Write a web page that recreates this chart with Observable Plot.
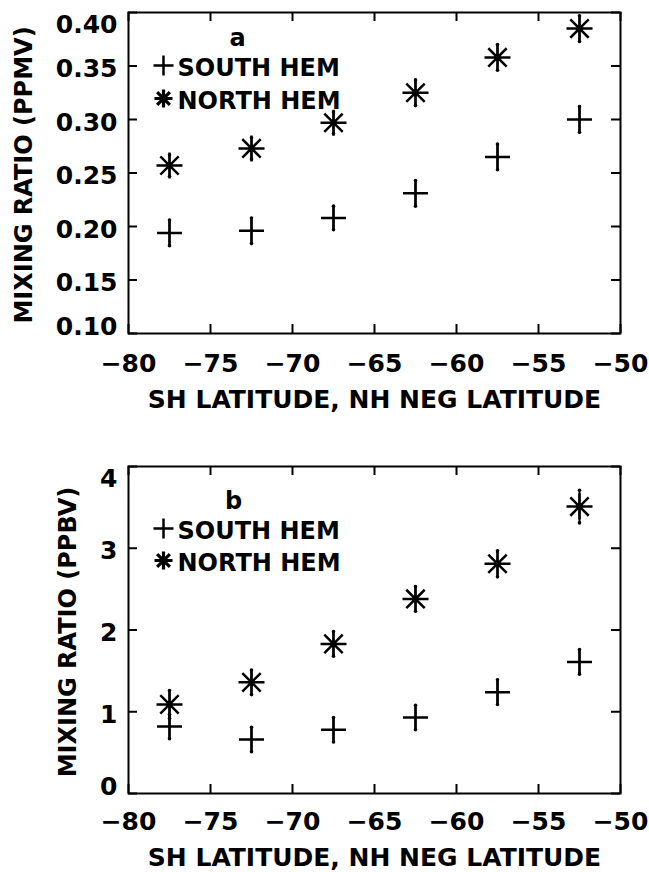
<!DOCTYPE html>
<html><head><meta charset="utf-8">
<script src="https://cdn.jsdelivr.net/npm/d3@7"></script>
<script src="https://cdn.jsdelivr.net/npm/@observablehq/plot@0.6"></script>
<style>body{margin:0;background:#fff} svg{display:block}</style>
</head><body><div id="c"></div><script>
// Latitude bins (SH latitude, NH negative latitude)
const lat = [-77.5, -72.5, -67.5, -62.5, -57.5, -52.5];
// Panel a (PPMV)
const shA = [0.194, 0.196, 0.208, 0.231, 0.265, 0.300];
const nhA = [0.257, 0.273, 0.297, 0.325, 0.358, 0.385];
const shAErr = [0.012, 0.012, 0.011, 0.012, 0.012, 0.012];
const nhAErr = [0.010, 0.010, 0.010, 0.012, 0.012, 0.012];
// Panel b (PPBV)
const shB = [0.82, 0.66, 0.78, 0.93, 1.24, 1.61];
const nhB = [1.09, 1.36, 1.83, 2.38, 2.81, 3.51];
const shBErr = [0.15, 0.15, 0.15, 0.15, 0.15, 0.15];
const nhBErr = [0.17, 0.15, 0.15, 0.15, 0.16, 0.20];
// Ticks
const xTicks = [-80, -75, -70, -65, -60, -55, -50];
const yTicksA = [0.10, 0.15, 0.20, 0.25, 0.30, 0.35, 0.40];
const yTicksB = [0, 1, 2, 3, 4];
const xLabel = "SH LATITUDE, NH NEG LATITUDE";
const legendNames = ["SOUTH HEM", "NORTH HEM"];

const plusSym = {draw(ctx, size) {const r = Math.sqrt(size / Math.PI);
  ctx.moveTo(-r, 0); ctx.lineTo(r, 0); ctx.moveTo(0, -r); ctx.lineTo(0, r);}};
const starSym = {draw(ctx, size) {const r = Math.sqrt(size / Math.PI); const d = r * Math.SQRT1_2;
  ctx.moveTo(-r, 0); ctx.lineTo(r, 0); ctx.moveTo(0, -r); ctx.lineTo(0, r);
  ctx.moveTo(-d, -d); ctx.lineTo(d, d); ctx.moveTo(-d, d); ctx.lineTo(d, -d);}};

const W = 649, ML = 128, MR = 29;
const plotW = W - ML - MR;

function panel(o) {
  const rows = lat.map((x, i) => ({x, sh: o.sh[i], nh: o.nh[i], se: o.shErr[i], ne: o.nhErr[i]}));
  const plotH = o.height - o.marginTop - o.marginBottom;
  const yt = o.yTicks;
  const mid = yt.slice(1, -1), lo = [yt[0]], hi = [yt[yt.length - 1]];
  const TK = 9;
  const fmt = o.yFmt;
  const F = 25;
  return Plot.plot({
    width: W, height: o.height, marginLeft: ML, marginRight: MR,
    marginTop: o.marginTop, marginBottom: o.marginBottom,
    style: {fontFamily: "'DejaVu Sans', sans-serif", fontWeight: "bold", fontSize: "24px", color: "black", background: "white", overflow: "visible"},
    x: {domain: [-80, -50], axis: null},
    y: {domain: o.yDomain, axis: null},
    marks: [
      // inward ticks
      Plot.ruleX(xTicks, {x: d => d, insetTop: plotH - TK, strokeWidth: 2}),
      Plot.ruleX(xTicks, {x: d => d, insetBottom: plotH - TK, strokeWidth: 2}),
      Plot.ruleY(yt, {y: d => d, insetRight: plotW - TK, strokeWidth: 2}),
      Plot.ruleY(yt, {y: d => d, insetLeft: plotW - TK, strokeWidth: 2}),
      Plot.frame({strokeWidth: 2}),
      // x tick labels
      Plot.text(xTicks, {x: d => d, frameAnchor: "bottom", lineAnchor: "top", dy: o.xPad, fontSize: F, text: d => d3.format("d")(d)}),
      // y tick labels
      Plot.text(mid, {y: d => d, frameAnchor: "left", textAnchor: "end", dx: -11, dy: 3, fontSize: F, text: fmt}),
      Plot.text(hi, {y: d => d, frameAnchor: "left", textAnchor: "end", dx: -11, lineAnchor: "top", dy: 3, fontSize: F, text: fmt}),
      Plot.text(lo, {y: d => d, frameAnchor: "left", textAnchor: "end", dx: -11, lineAnchor: "bottom", dy: 1, fontSize: F, text: fmt}),
      // axis labels
      Plot.text([xLabel], {frameAnchor: "bottom", lineAnchor: "top", dy: o.labPad, fontSize: F, text: d => d}),
      Plot.text([o.yLabel], {frameAnchor: "left", textAnchor: "middle", rotate: -90, dx: o.yLabX - ML, dy: 2, fontSize: 24, text: d => d}),
      // legend
      Plot.text([o.tag], {frameAnchor: "top-left", textAnchor: "middle", lineAnchor: "bottom", dx: o.tagX, dy: o.tagY, text: d => d}),
      Plot.text([legendNames[0]], {frameAnchor: "top-left", textAnchor: "start", lineAnchor: "bottom", dx: 49, dy: o.legY[0], text: d => d}),
      Plot.text([legendNames[1]], {frameAnchor: "top-left", textAnchor: "start", lineAnchor: "bottom", dx: 49, dy: o.legY[1], text: d => d}),
      Plot.dot([0], {frameAnchor: "top-left", dx: 35, dy: o.legY[0] - 10, r: 10, symbol: plusSym, fill: "none", stroke: "black", strokeWidth: 2.5}),
      Plot.dot([0], {frameAnchor: "top-left", dx: 35, dy: o.legY[1] - 10, r: 9, symbol: starSym, fill: "none", stroke: "black", strokeWidth: 3.2}),
      // error bars
      Plot.ruleX(rows, {x: "x", y1: d => d.sh - d.se, y2: d => d.sh + d.se, strokeWidth: 2}),
      Plot.ruleX(rows, {x: "x", y1: d => d.nh - d.ne, y2: d => d.nh + d.ne, strokeWidth: 2}),
      Plot.dot(rows, {x: "x", y: d => d.sh - d.se, r: 1.8, fill: "black"}),
      Plot.dot(rows, {x: "x", y: d => d.sh + d.se, r: 1.8, fill: "black"}),
      Plot.dot(rows, {x: "x", y: d => d.nh - d.ne, r: 1.8, fill: "black"}),
      Plot.dot(rows, {x: "x", y: d => d.nh + d.ne, r: 1.8, fill: "black"}),
      // data symbols
      Plot.dot(rows, {x: "x", y: "sh", r: 12.5, symbol: plusSym, fill: "none", stroke: "black", strokeWidth: 2.5}),
      Plot.dot(rows, {x: "x", y: "nh", r: 13, symbol: starSym, fill: "none", stroke: "black", strokeWidth: 2.5})
    ]
  });
}

const c = document.getElementById("c");
c.append(panel({
  sh: shA, nh: nhA, shErr: shAErr, nhErr: nhAErr,
  yDomain: [0.10, 0.40], yTicks: yTicksA, yFmt: d => d3.format(".2f")(d),
  yLabel: "MIXING RATIO (PPMV)", yLabX: 24, tag: "a", tagX: 109, tagY: 33, legY: [63, 96],
  height: 436, marginTop: 12, marginBottom: 103, xPad: 21, labPad: 57
}));
c.append(panel({
  sh: shB, nh: nhB, shErr: shBErr, nhErr: nhBErr,
  yDomain: [0, 4], yTicks: yTicksB, yFmt: d => d3.format("d")(d),
  yLabel: "MIXING RATIO (PPBV)", yLabX: 68, tag: "b", tagX: 105, tagY: 42, legY: [72, 104],
  height: 436, marginTop: 30, marginBottom: 79, xPad: 19, labPad: 55
}));
</script></body></html>
